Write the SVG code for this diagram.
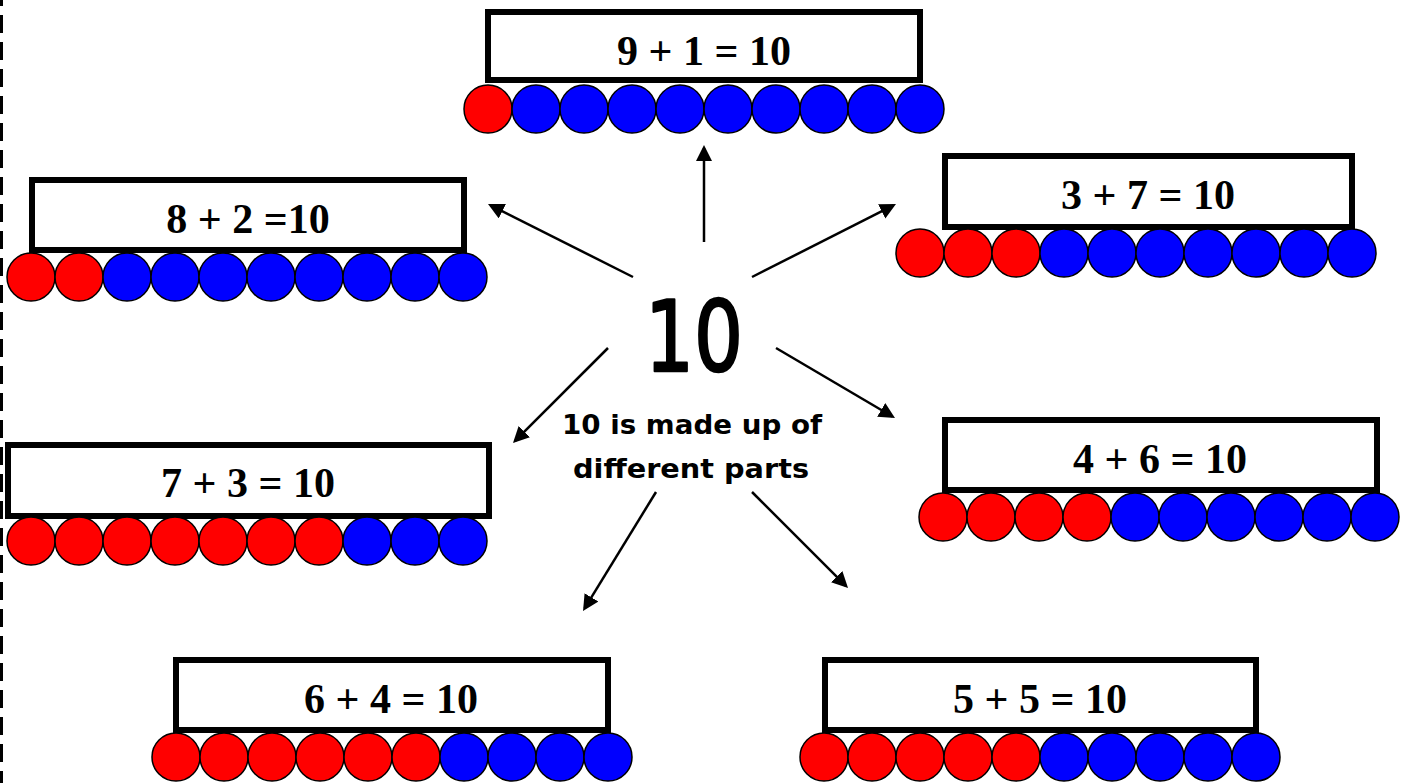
<svg xmlns="http://www.w3.org/2000/svg" width="1408" height="783" viewBox="0 0 1408 783">
<style>
.box{fill:#fff;stroke:#000;stroke-width:6}
.eq{font-family:"Liberation Serif","Times New Roman",serif;font-weight:bold;font-size:42px;text-anchor:middle;fill:#000}
.r{fill:#ff0000;stroke:#000;stroke-width:1.5}
.b{fill:#0000ff;stroke:#000;stroke-width:1.5}
.conn line{stroke:#000;stroke-width:2.5;marker-end:url(#ah)}
.lbl{font-family:"DejaVu Sans","Noto Sans",sans-serif;font-weight:bold;fill:#000;text-anchor:middle}
</style>
<defs>
<marker id="ah" markerUnits="userSpaceOnUse" markerWidth="18" markerHeight="18" refX="13" refY="8" orient="auto">
<path d="M0,0 L16,8 L0,16 z" fill="#000"/>
</marker>
</defs>
<rect width="1408" height="783" fill="#fff"/>
<line x1="1.5" y1="0" x2="1.5" y2="783" stroke="#000" stroke-width="3" stroke-dasharray="18 9" stroke-dashoffset="12"/>

<g id="center">
<text x="694" y="371" class="lbl" style="font-weight:normal" font-size="98" textLength="98" lengthAdjust="spacingAndGlyphs" stroke="#000" stroke-width="2.5" stroke-linejoin="round">10</text>
<text x="692" y="434" class="lbl" font-size="26" textLength="260" lengthAdjust="spacingAndGlyphs">10 is made up of</text>
<text x="691" y="478" class="lbl" font-size="26" textLength="236" lengthAdjust="spacingAndGlyphs">different parts</text>
</g>

<g id="connectors" class="conn">
<line x1="704" y1="242" x2="704" y2="148"/>
<line x1="633" y1="277" x2="490.7" y2="205.4"/>
<line x1="752" y1="277" x2="893.3" y2="205.4"/>
<line x1="608" y1="348" x2="515.1" y2="440.9"/>
<line x1="776" y1="348" x2="892.4" y2="416.5"/>
<line x1="656" y1="492" x2="584.6" y2="608.4"/>
<line x1="752" y1="492" x2="845.9" y2="585.9"/>
</g>

<g id="n9p1">
<rect class="box" x="488" y="12" width="432" height="68"/>
<text class="eq" x="704" y="65">9 + 1 = 10</text>
<g transform="translate(464,109)">
<circle class="r" cx="24" cy="0" r="24"/><circle class="b" cx="72" cy="0" r="24"/><circle class="b" cx="120" cy="0" r="24"/><circle class="b" cx="168" cy="0" r="24"/><circle class="b" cx="216" cy="0" r="24"/><circle class="b" cx="264" cy="0" r="24"/><circle class="b" cx="312" cy="0" r="24"/><circle class="b" cx="360" cy="0" r="24"/><circle class="b" cx="408" cy="0" r="24"/><circle class="b" cx="456" cy="0" r="24"/>
</g>
</g>

<g id="n8p2">
<rect class="box" x="32" y="180" width="432" height="70"/>
<text class="eq" x="248" y="233">8 + 2 =10</text>
<g transform="translate(7,277)">
<circle class="r" cx="24" cy="0" r="24"/><circle class="r" cx="72" cy="0" r="24"/><circle class="b" cx="120" cy="0" r="24"/><circle class="b" cx="168" cy="0" r="24"/><circle class="b" cx="216" cy="0" r="24"/><circle class="b" cx="264" cy="0" r="24"/><circle class="b" cx="312" cy="0" r="24"/><circle class="b" cx="360" cy="0" r="24"/><circle class="b" cx="408" cy="0" r="24"/><circle class="b" cx="456" cy="0" r="24"/>
</g>
</g>

<g id="n3p7">
<rect class="box" x="945" y="156" width="407" height="71"/>
<text class="eq" x="1148" y="209">3 + 7 = 10</text>
<g transform="translate(896,253)">
<circle class="r" cx="24" cy="0" r="24"/><circle class="r" cx="72" cy="0" r="24"/><circle class="r" cx="120" cy="0" r="24"/><circle class="b" cx="168" cy="0" r="24"/><circle class="b" cx="216" cy="0" r="24"/><circle class="b" cx="264" cy="0" r="24"/><circle class="b" cx="312" cy="0" r="24"/><circle class="b" cx="360" cy="0" r="24"/><circle class="b" cx="408" cy="0" r="24"/><circle class="b" cx="456" cy="0" r="24"/>
</g>
</g>

<g id="n7p3">
<rect class="box" x="8" y="445" width="481" height="71"/>
<text class="eq" x="248" y="497">7 + 3 = 10</text>
<g transform="translate(7,541)">
<circle class="r" cx="24" cy="0" r="24"/><circle class="r" cx="72" cy="0" r="24"/><circle class="r" cx="120" cy="0" r="24"/><circle class="r" cx="168" cy="0" r="24"/><circle class="r" cx="216" cy="0" r="24"/><circle class="r" cx="264" cy="0" r="24"/><circle class="r" cx="312" cy="0" r="24"/><circle class="b" cx="360" cy="0" r="24"/><circle class="b" cx="408" cy="0" r="24"/><circle class="b" cx="456" cy="0" r="24"/>
</g>
</g>

<g id="n4p6">
<rect class="box" x="945" y="420" width="432" height="70"/>
<text class="eq" x="1160" y="473">4 + 6 = 10</text>
<g transform="translate(919,517)">
<circle class="r" cx="24" cy="0" r="24"/><circle class="r" cx="72" cy="0" r="24"/><circle class="r" cx="120" cy="0" r="24"/><circle class="r" cx="168" cy="0" r="24"/><circle class="b" cx="216" cy="0" r="24"/><circle class="b" cx="264" cy="0" r="24"/><circle class="b" cx="312" cy="0" r="24"/><circle class="b" cx="360" cy="0" r="24"/><circle class="b" cx="408" cy="0" r="24"/><circle class="b" cx="456" cy="0" r="24"/>
</g>
</g>

<g id="n6p4">
<rect class="box" x="176" y="660" width="432" height="70"/>
<text class="eq" x="391" y="713">6 + 4 = 10</text>
<g transform="translate(152,757)">
<circle class="r" cx="24" cy="0" r="24"/><circle class="r" cx="72" cy="0" r="24"/><circle class="r" cx="120" cy="0" r="24"/><circle class="r" cx="168" cy="0" r="24"/><circle class="r" cx="216" cy="0" r="24"/><circle class="r" cx="264" cy="0" r="24"/><circle class="b" cx="312" cy="0" r="24"/><circle class="b" cx="360" cy="0" r="24"/><circle class="b" cx="408" cy="0" r="24"/><circle class="b" cx="456" cy="0" r="24"/>
</g>
</g>

<g id="n5p5">
<rect class="box" x="825" y="660" width="431" height="70"/>
<text class="eq" x="1040" y="713">5 + 5 = 10</text>
<g transform="translate(800,757)">
<circle class="r" cx="24" cy="0" r="24"/><circle class="r" cx="72" cy="0" r="24"/><circle class="r" cx="120" cy="0" r="24"/><circle class="r" cx="168" cy="0" r="24"/><circle class="r" cx="216" cy="0" r="24"/><circle class="b" cx="264" cy="0" r="24"/><circle class="b" cx="312" cy="0" r="24"/><circle class="b" cx="360" cy="0" r="24"/><circle class="b" cx="408" cy="0" r="24"/><circle class="b" cx="456" cy="0" r="24"/>
</g>
</g>
</svg>
